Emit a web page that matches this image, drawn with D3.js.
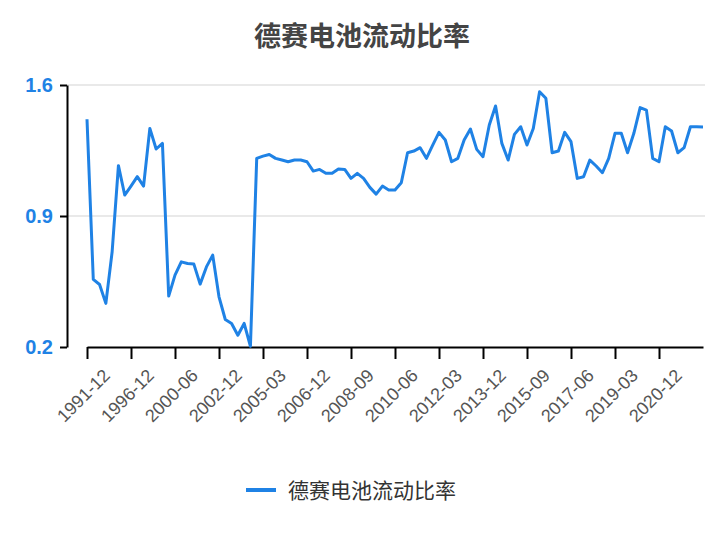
<!DOCTYPE html>
<html>
<head>
<meta charset="utf-8">
<script src="https://cdn.jsdelivr.net/npm/d3@7"></script>
<style>
  body { margin: 0; background: #fff; font-family: "Noto Sans CJK SC", "Liberation Sans", sans-serif; }
</style>
</head>
<body>
<div id="chart"></div>
<script>
// Chart data
const dates = [
  '1991-12','1992-12','1993-12','1994-12','1995-06','1995-12','1996-06','1996-12',
  '1997-06','1997-12','1998-06','1998-12','1999-06','1999-12','2000-06',
  '2000-12','2001-06','2001-12','2002-03','2002-06','2002-09','2002-12',
  '2003-03','2003-06','2003-09','2003-12','2004-06','2004-12','2005-03',
  '2005-06','2005-09','2005-12','2006-03','2006-06','2006-09','2006-12',
  '2007-03','2007-06','2007-09','2007-12','2008-03','2008-06','2008-09',
  '2008-12','2009-03','2009-06','2009-09','2009-12','2010-03','2010-06',
  '2010-09','2010-12','2011-03','2011-06','2011-09','2011-12','2012-03',
  '2012-06','2012-09','2012-12','2013-03','2013-06','2013-09','2013-12',
  '2014-03','2014-06','2014-09','2014-12','2015-03','2015-06','2015-09',
  '2015-12','2016-03','2016-06','2016-09','2016-12','2017-03','2017-06',
  '2017-09','2017-12','2018-03','2018-06','2018-09','2018-12','2019-03',
  '2019-06','2019-09','2019-12','2020-03','2020-06','2020-09','2020-12',
  '2021-03','2021-06','2021-09','2021-12','2022-03','2022-06','2022-09'
];
const ratio = [
  1.417, 0.561, 0.534, 0.433, 0.709, 1.169, 1.012, 1.06, 1.11, 1.06,
  1.368, 1.258, 1.288, 0.472, 0.584, 0.655, 0.646, 0.643, 0.536, 0.628,
  0.691, 0.468, 0.347, 0.326, 0.263, 0.326, 0.204, 1.208, 1.22, 1.229,
  1.208, 1.199, 1.19, 1.199, 1.199, 1.19, 1.14, 1.149, 1.128, 1.128,
  1.151, 1.149, 1.101, 1.128, 1.101, 1.053, 1.017, 1.06, 1.039, 1.039,
  1.078, 1.238, 1.247, 1.265, 1.208, 1.279, 1.347, 1.306, 1.19, 1.208,
  1.306, 1.365, 1.256, 1.217, 1.386, 1.488, 1.288, 1.199, 1.336, 1.377,
  1.279, 1.368, 1.564, 1.529, 1.238, 1.247, 1.347, 1.297, 1.101, 1.11,
  1.199, 1.167, 1.131, 1.208, 1.342, 1.342, 1.238, 1.342, 1.479, 1.466,
  1.208, 1.19, 1.377, 1.354, 1.238, 1.265, 1.377, 1.377, 1.376
];
const yTicks = [0.2, 0.9, 1.6];
const seriesName = '德赛电池流动比率';

const W = 724, H = 540;
const margin = { top: 85, right: 19, bottom: 193, left: 67 };
const width = W - margin.left - margin.right;
const height = H - margin.top - margin.bottom;
const lineColor = '#1f82e5';

const svg = d3.select('#chart').append('svg')
  .attr('width', W).attr('height', H);

svg.append('text')
  .attr('x', W / 2).attr('y', 46)
  .attr('text-anchor', 'middle')
  .style('font-size', '27px').style('font-weight', 'bold')
  .style('fill', '#444')
  .text(seriesName);

const g = svg.append('g').attr('transform', `translate(${margin.left},${margin.top})`);

const x = d3.scalePoint().domain(dates).range([20, width - 2]);
const y = d3.scaleLinear().domain([0.2, 1.6]).range([height, 0]);

// grid lines
g.append('g').selectAll('line').data(yTicks.slice(1)).enter().append('line')
  .attr('x1', 0).attr('x2', width)
  .attr('y1', d => y(d)).attr('y2', d => y(d))
  .attr('stroke', '#e2e2e2').attr('stroke-width', 1.5);

// y axis
const yAxis = g.append('g')
  .call(d3.axisLeft(y).tickValues(yTicks).tickFormat(d3.format('.1f')).tickSize(7).tickSizeOuter(0));
yAxis.select('.domain').attr('stroke', '#000').attr('stroke-width', 2);
yAxis.selectAll('.tick line').attr('stroke', '#000').attr('stroke-width', 2);
yAxis.selectAll('text')
  .attr('x', -14)
  .style('font-size', '20px').style('font-weight', 'bold')
  .style('fill', lineColor).style('font-family', 'Liberation Sans, sans-serif');

// x axis
const tickDates = dates.filter((d, i) => i % 7 === 0 && i <= 91);
const xAxis = g.append('g')
  .attr('transform', `translate(0,${height})`)
  .call(d3.axisBottom(x).tickValues(tickDates).tickSize(12).tickSizeOuter(0));
xAxis.select('.domain').attr('stroke', '#000').attr('stroke-width', 2);
xAxis.selectAll('.tick line').attr('stroke', '#000').attr('stroke-width', 2);
xAxis.selectAll('text')
  .attr('transform', 'translate(4,10) rotate(-45)')
  .style('text-anchor', 'end')
  .style('font-size', '18px').style('fill', '#555')
  .style('font-family', 'Liberation Sans, sans-serif');

// line
g.append('path')
  .datum(ratio)
  .attr('fill', 'none')
  .attr('stroke', lineColor)
  .attr('stroke-width', 3)
  .attr('stroke-linejoin', 'round')
  .attr('d', d3.line().x((d, i) => x(dates[i])).y(d => y(d)));

// legend
const legend = svg.append('g').attr('transform', 'translate(246,490)');
legend.append('line')
  .attr('x1', 0).attr('x2', 30).attr('y1', 0).attr('y2', 0)
  .attr('stroke', lineColor).attr('stroke-width', 4);
legend.append('text')
  .attr('x', 42).attr('y', 8)
  .style('font-size', '21px').style('fill', '#333')
  .text(seriesName);
</script>
</body>
</html>
